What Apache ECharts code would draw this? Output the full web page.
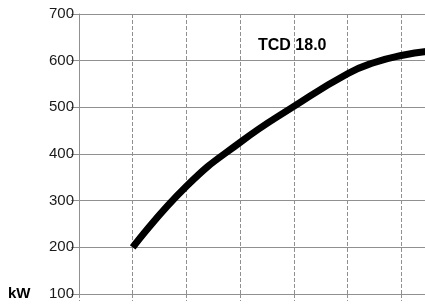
<!DOCTYPE html>
<html>
<head>
<meta charset="utf-8">
<script src="https://cdn.jsdelivr.net/npm/echarts@6/dist/echarts.min.js"></script>
<style>
html,body{margin:0;padding:0;background:#fff;overflow:hidden;width:425px;height:304px;}
#c{width:455px;height:304px;}
</style>
</head>
<body>
<div id="c"></div>
<script>
var speedX = [1, 2, 3, 4, 5, 5.5, 6, 6.5];
var powerKW = [200, 331, 425, 502, 572, 596, 611, 620];
var yTicks = [100, 200, 300, 400, 500, 600, 700];
var seriesLabel = 'TCD 18.0';
var unitLabel = 'kW';

var chart = echarts.init(document.getElementById('c'), null, {renderer: 'canvas'});
var pts = speedX.map(function (x, i) { return [x, powerKW[i]]; });
var font = '"Liberation Sans", Arial, sans-serif';
var gridColor = '#909090';
chart.setOption({
  animation: false,
  grid: {left: 79, top: 14, bottom: 10, right: 0, containLabel: false},
  xAxis: {
    type: 'value', min: 0, max: 7, interval: 1,
    axisLabel: {show: false},
    axisLine: {show: true, lineStyle: {color: gridColor, width: 1}},
    axisTick: {show: true, length: 7, lineStyle: {color: gridColor, type: [4, 2]}},
    splitLine: {show: true, lineStyle: {color: gridColor, width: 1, type: [4, 2]}}
  },
  yAxis: {
    type: 'value', min: yTicks[0], max: yTicks[yTicks.length - 1], interval: 100,
    axisLine: {show: true, lineStyle: {color: gridColor, width: 1}},
    axisTick: {show: true, length: 8, lineStyle: {color: gridColor}},
    axisLabel: {margin: 5, fontSize: 15, color: '#1a1a1a', fontFamily: font},
    splitLine: {show: true, lineStyle: {color: gridColor, width: 1}}
  },
  series: [{
    type: 'line', data: pts, smooth: 0.5, showSymbol: false,
    lineStyle: {color: '#000', width: 7, cap: 'butt'}
  }],
  graphic: [
    {type: 'text', left: 258, top: 38, style: {text: seriesLabel, font: 'bold 16px ' + font, fill: '#000'}},
    {type: 'text', left: 8, top: 286, style: {text: unitLabel, font: 'bold 15px ' + font, fill: '#000'}}
  ]
});
</script>
</body>
</html>
